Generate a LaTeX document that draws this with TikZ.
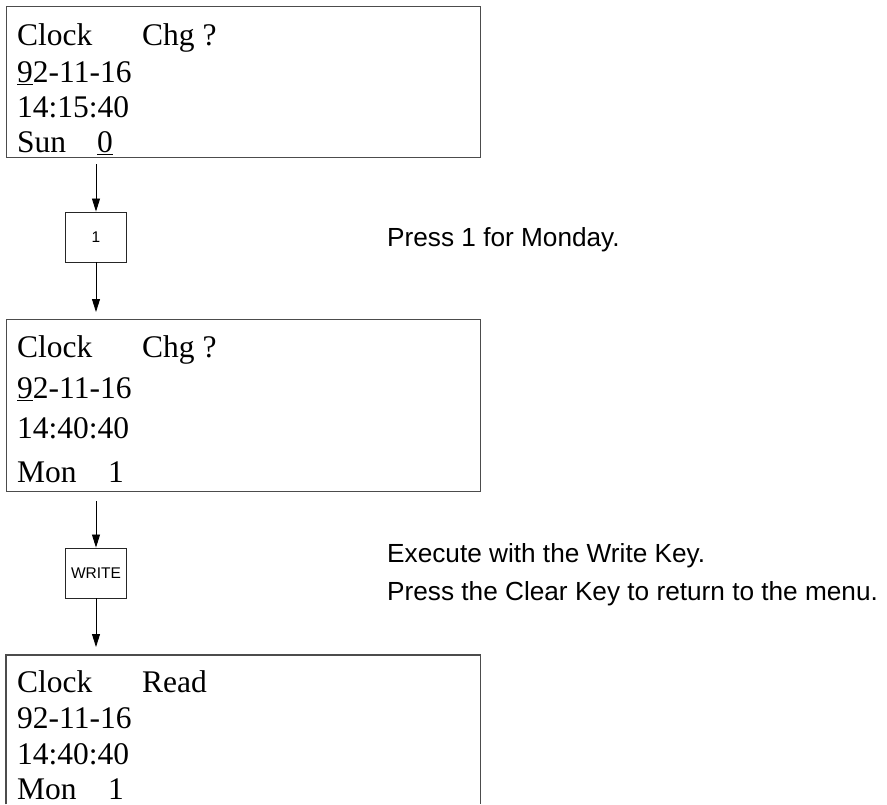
\documentclass[tikz,border=0pt]{standalone}
\usepackage{fontspec}
\setmainfont{Liberation Serif}
\newfontfamily\arialfont{Liberation Sans}
\usetikzlibrary{arrows.meta}
\tikzset{
  lcd/.style={draw=black!70, line width=1.3pt, inner sep=0pt, anchor=north west},
  lcdopen/.style={draw=none, inner sep=0pt, anchor=north west},
  keybox/.style={draw=black!85, line width=0.9pt, inner sep=0pt, minimum width=61pt, minimum height=50pt, font=\arialfont\fontsize{15.5}{17}\selectfont},
  lcdtext/.style={anchor=base west, inner sep=0pt, font=\fontsize{31.5}{35}\selectfont},
  note/.style={anchor=base west, inner sep=0pt, font=\arialfont\fontsize{26.2}{30}\selectfont},
  flow/.style={line width=0.8pt, -{Triangle[length=13pt,width=8pt]}},
}
\begin{document}
\begin{tikzpicture}[x=1pt,y=-1pt]
\useasboundingbox (0,0) rectangle (887,804);
% screen 1
\node[lcd, minimum width=474pt, minimum height=151pt] (s1) at (6,6) {};
\node[lcdtext] (s1a) at (17,45) {\makebox[125pt][l]{Clock}Chg ?};
\node[lcdtext] (s1b) at (17,82) {\underline{9}2-11-16};
\node[lcdtext] (s1c) at (17,117) {14:15:40};
\node[lcdtext] (s1d) at (17,152) {\makebox[80pt][l]{Sun}\underline{0}};
% key 1
\node[keybox] (k1) at (96,237) {1};
\node[note] (n1) at (387,246) {Press 1 for Monday.};
% screen 2
\node[lcd, minimum width=474pt, minimum height=172pt] (s2) at (6,319) {};
\node[lcdtext] (s2a) at (17,357) {\makebox[125pt][l]{Clock}Chg ?};
\node[lcdtext] (s2b) at (17,398) {\underline{9}2-11-16};
\node[lcdtext] (s2c) at (17,438) {14:40:40};
\node[lcdtext] (s2d) at (17,482) {\makebox[91pt][l]{Mon}1};
% key 2
\node[keybox] (k2) at (96,573) {WRITE};
\node[note] (n2) at (387,562) {Execute with the Write Key.};
\node[note] (n3) at (387,600) {Press the Clear Key to return to the menu.};
% screen 3 (open at the bottom)
\node[lcdopen, minimum width=474pt, minimum height=149pt] (s3) at (6,655) {};
\draw[draw=black!70, line width=1.3pt] (s3.south west) -- (s3.north west) -- (s3.north east) -- (s3.south east);
\node[lcdtext] (s3a) at (17,692) {\makebox[125pt][l]{Clock}Read};
\node[lcdtext] (s3b) at (17,728) {92-11-16};
\node[lcdtext] (s3c) at (17,764) {14:40:40};
\node[lcdtext] (s3d) at (17,799) {\makebox[91pt][l]{Mon}1};
% connectors
\draw[flow, shorten <=6pt] (s1.south -| k1.north) -- (k1.north);
\draw[flow, shorten >=7pt] (k1.south) -- (s2.north -| k1.south);
\draw[flow, shorten <=9pt] (s2.south -| k2.north) -- (k2.north);
\draw[flow, shorten >=8pt] (k2.south) -- (s3.north -| k2.south);
\end{tikzpicture}
\end{document}
